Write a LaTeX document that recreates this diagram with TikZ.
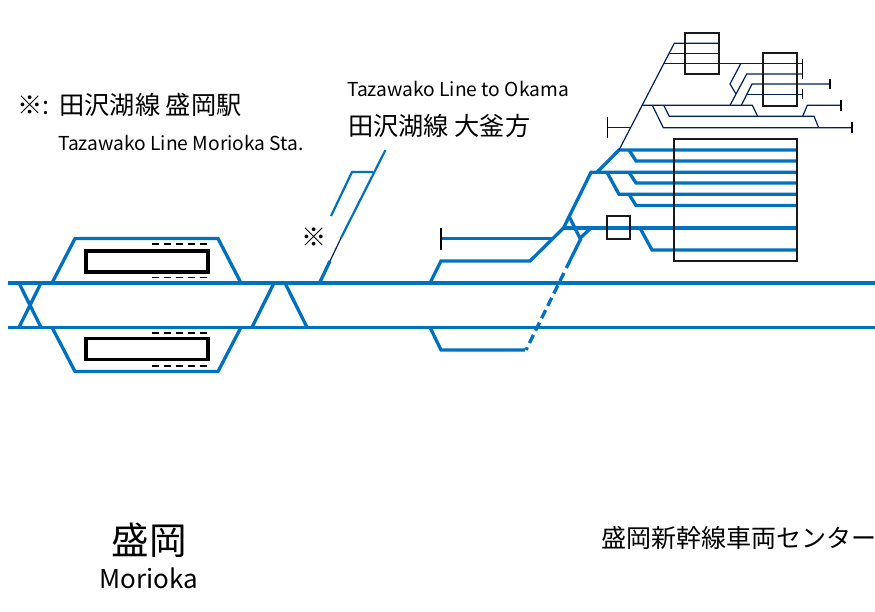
\documentclass[tikz,border=0pt]{standalone}
\usepackage{fontspec}
\usepackage{xcolor}
\usetikzlibrary{positioning}
\setmainfont{Noto Sans CJK JP}
\definecolor{trackblue}{RGB}{0,112,192}
\definecolor{yardnavy}{RGB}{0,32,96}
\begin{document}
\begin{tikzpicture}[x=1pt, y=-1pt, line join=miter,
  main/.style={draw=trackblue, line width=3.3pt},
  branch/.style={draw=trackblue, line width=2.2pt},
  yard/.style={draw=yardnavy, line width=1.2pt},
  stopbar/.style={draw=black, line width=1.6pt},
  platform/.style={draw=black, line width=3.2pt},
  shed/.style={draw=black!90, line width=2pt},
  edgeline/.style={draw=black, line width=1.3pt, dash pattern=on 7pt off 5pt},
  lbl/.style={inner sep=0pt, anchor=west}]
\useasboundingbox (0,0) rectangle (875,611);
% main lines
\draw[main] (8,283) -- (875,283);
\draw[main] (8,327.3) -- (875,327.3);
\draw[main] (19,283) -- (41,327.3);
\draw[main] (41,283) -- (19,327.3);
\draw[main] (274,283) -- (252,327.3);
\draw[main] (285,283) -- (307,327.3);
% station loops and platforms
\draw[main] (52,283) -- (75,238.5) -- (218,238.5) -- (241,283);
\draw[main] (52,327.3) -- (75,371.5) -- (218,371.5) -- (241,327.3);
\draw[platform] (86,251) rectangle (208,272);
\draw[platform] (86,338.5) rectangle (208,359.5);
\foreach \y in {244,277.5,333,366}
  \draw[edgeline] (152,\y) -- (208,\y);
% Tazawako line
\draw[main] (319.5,283) -- (330,261);
\draw[yard] (330,261) -- (341,238);
\draw[branch] (341,238) -- (385.5,150);
\draw[branch] (373,172) -- (352,172) -- (331,216);
% depot access
\draw[main] (430,283) -- (441,261) -- (530,261) -- (563.5,228) -- (591,172.3) -- (796,172.3);
\draw[main] (441,238.5) -- (552,238.5);
\draw[stopbar] (441,228) -- (441,250);
\draw[main] (430,327.3) -- (441,350) -- (525,350);
\draw[main] (581,238.3) -- (566.3,268);
\draw[main, dash pattern=on 9pt off 4.8pt] (563.9,273) -- (526,350);
\draw[main] (569,216) -- (580,238.3) -- (591,228);
\draw[main] (563.5,228) -- (796,228);
\draw[main] (640,228) -- (652,250) -- (796,250);
\draw[main] (597,172.3) -- (619,150) -- (796,150);
\draw[main] (629,150) -- (636,161) -- (796,161);
\draw[main] (629,172.3) -- (636,183) -- (796,183);
\draw[main] (607,172.3) -- (619,194.3) -- (796,194.3);
\draw[main] (629,194.3) -- (636,205.5) -- (796,205.5);
\draw[shed] (607.3,216.3) rectangle (630.3,238.7);
\draw[shed] (674.3,138.7) rectangle (796.7,261);
% upper yard
\draw[yard] (619,150) -- (674.3,43.3) -- (718,43.3);
\draw[yard] (669.3,53.3) -- (719,53.3);
\draw[yard] (663.7,63.7) -- (802.3,63.7);
\draw[yard] (740.7,63.7) -- (730,84) -- (736,94);
\draw[yard] (730,105.3) -- (746.7,74) -- (802.3,74);
\draw[yard] (741.3,105.3) -- (752,84) -- (830,84);
\draw[yard] (746.7,94.3) -- (802.3,94.3);
\draw[yard] (641.7,105.3) -- (752.3,105.3) -- (757.7,116.3);
\draw[yard] (663.7,105.3) -- (669.3,116.3) -- (814,116.3) -- (818.7,127.7);
\draw[yard] (802.7,116.3) -- (807.3,105.3) -- (840.7,105.3);
\draw[yard] (652.3,105.3) -- (663.3,127.7) -- (852,127.7);
\draw[yard] (607.3,127.7) -- (630,127.7);
\draw[stopbar] (802.3,58.7) -- (802.3,79);
\draw[stopbar] (802.3,89.3) -- (802.3,99.3);
\draw[stopbar] (830,78.7) -- (830,89.3);
\draw[stopbar] (840.7,100) -- (840.7,110.7);
\draw[stopbar] (852,121.7) -- (852,132.7);
\draw[stopbar] (607.3,116.7) -- (607.3,138.3);
\draw[shed] (685,33) rectangle (719,74);
\draw[shed] (763,53.3) rectangle (796.7,105.7);
% labels
\node[lbl, font=\fontsize{25.2}{27}\selectfont] (notejp) at (17,105) {※:\hspace{2.5pt} 田沢湖線 盛岡駅};
\node[lbl, font=\fontsize{19.2}{21}\selectfont] (noteen) at (58,143) {Tazawako Line Morioka Sta.};
\node[lbl, font=\fontsize{19.2}{21}\selectfont] (okamaen) at (347,89) {Tazawako Line to Okama};
\node[lbl, font=\fontsize{25.2}{27}\selectfont] (okamajp) at (348,126) {田沢湖線 大釜方};
\node[inner sep=0pt, font=\fontsize{25.2}{27}\selectfont] (mark) at (314,237) {※};
\node[inner sep=0pt, font=\fontsize{37.5}{39}\selectfont] (morioka) at (149,540) {盛岡};
\node[inner sep=0pt, font=\fontsize{26}{28}\selectfont] (moriokaen) at (149,578) {Morioka};
\node[lbl, font=\fontsize{25}{27}\selectfont] (depot) at (601,538) {盛岡新幹線車両センター};
\end{tikzpicture}
\end{document}
